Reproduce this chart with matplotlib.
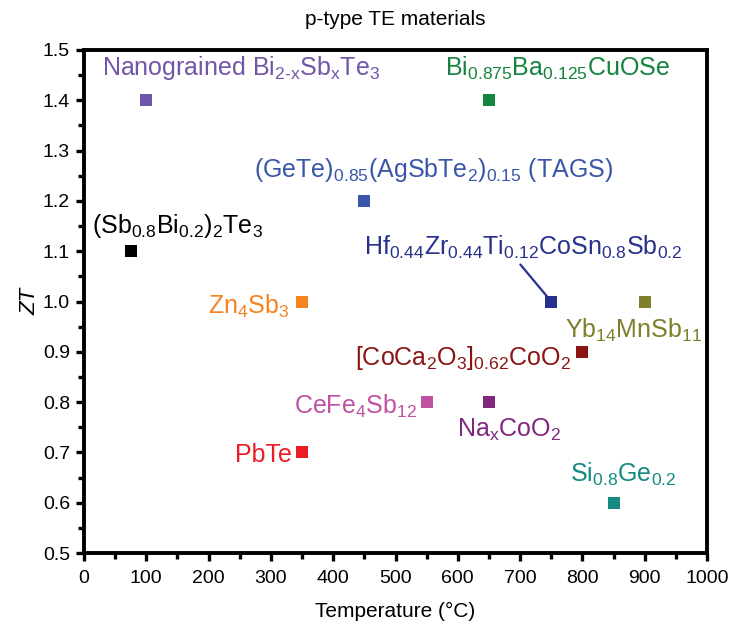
import matplotlib
matplotlib.use("Agg")
import matplotlib.pyplot as plt
from matplotlib.ticker import MultipleLocator

# values
materials = [
    r"Nanograined Bi$_{2\text{-}x}$Sb$_x$Te$_3$",
    r"Bi$_{0.875}$Ba$_{0.125}$CuOSe",
    r"(GeTe)$_{0.85}$(AgSbTe$_2$)$_{0.15}$ (TAGS)",
    r"(Sb$_{0.8}$Bi$_{0.2}$)$_2$Te$_3$",
    r"Hf$_{0.44}$Zr$_{0.44}$Ti$_{0.12}$CoSn$_{0.8}$Sb$_{0.2}$",
    r"Zn$_4$Sb$_3$",
    r"Yb$_{14}$MnSb$_{11}$",
    r"[CoCa$_2$O$_3$]$_{0.62}$CoO$_2$",
    r"CeFe$_4$Sb$_{12}$",
    r"Na$_x$CoO$_2$",
    r"PbTe",
    r"Si$_{0.8}$Ge$_{0.2}$",
]
temperature = [100, 650, 450, 75, 750, 350, 900, 800, 550, 650, 350, 850]
zt = [1.4, 1.4, 1.2, 1.1, 1.0, 1.0, 1.0, 0.9, 0.8, 0.8, 0.7, 0.6]

colors = ["#7155a8", "#14843e", "#3a56a8", "#000000", "#27318d", "#f5841f",
          "#7f7f2a", "#8b1414", "#c052a3", "#82277d", "#ed1c24", "#158a80"]

# label placement: offset in pixels from the marker, horizontal alignment
label_offsets = [(-44, 25), (-44, 25), (-110, 24), (-39, 18), (-187, 47), (-12, -12),
                 (-80, -36), (-11, -13), (-9, -12), (-32, -35), (-10, -10), (-44, 21)]
label_ha = ["left", "left", "left", "left", "left", "right",
            "left", "right", "right", "left", "right", "left"]
leader_line = [False, False, False, False, True, False,
               False, False, False, False, False, False]

plt.rcParams.update({
    "font.family": ["Liberation Sans", "DejaVu Sans"],
    "mathtext.fontset": "custom",
    "mathtext.rm": "Liberation Sans",
    "mathtext.it": "Liberation Sans:italic",
    "mathtext.default": "regular",
})

fig = plt.figure(figsize=(7.32, 6.3), dpi=100)
ax = fig.add_axes([84 / 732, 1 - 553 / 630, 623 / 732, 503 / 630])

for t, z, name, c, (dx, dy), ha, lead in zip(temperature, zt, materials, colors,
                                              label_offsets, label_ha, leader_line):
    ax.plot(t, z, "s", color=c, markersize=8.5, markeredgewidth=0, zorder=3)
    kw = {}
    if lead:
        kw["arrowprops"] = dict(arrowstyle="-", color=c, lw=1.6, relpos=(0.48, 0.0),
                                shrinkA=1, shrinkB=0)
    ax.annotate(name, (t, z), xytext=(dx, dy), textcoords="offset pixels",
                ha=ha, va="baseline", color=c, fontsize=18, **kw)

ax.set_xlim(0, 1000)
ax.set_ylim(0.5, 1.5)
ax.xaxis.set_major_locator(MultipleLocator(100))
ax.xaxis.set_minor_locator(MultipleLocator(50))
ax.yaxis.set_major_locator(MultipleLocator(0.1))
ax.yaxis.set_minor_locator(MultipleLocator(0.05))
ax.yaxis.set_major_formatter(plt.FormatStrFormatter("%.1f"))

for s in ax.spines.values():
    s.set_linewidth(2.8)
ax.tick_params(which="major", direction="out", length=6, width=2.4,
               labelsize=14, pad=4)
ax.tick_params(axis="x", which="major", pad=6)
ax.tick_params(which="minor", direction="out", length=4, width=2.4)

ax.set_xlabel("Temperature (°C)", fontsize=15, labelpad=11)
ax.set_ylabel("ZT", fontsize=16, fontstyle="italic", labelpad=2)
ax.set_title("p-type TE materials", fontsize=15, pad=18)

fig.savefig("out.png", dpi=100)
